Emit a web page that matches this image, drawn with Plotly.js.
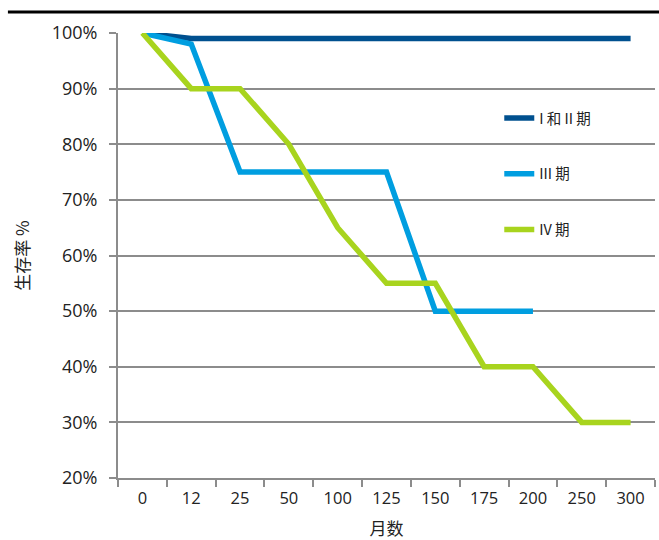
<!DOCTYPE html>
<html>
<head>
<meta charset="utf-8">
<script src="https://cdn.plot.ly/plotly-3.0.1.min.js"></script>
<style>html,body{margin:0;padding:0;background:#fff;}#chart{width:659px;height:540px;}</style>
</head>
<body>
<div id="chart"></div>
<script>
const months = ['0','12','25','50','100','125','150','175','200','250','300'];
const stage12 = [100, 99, 99, 99, 99, 99, 99, 99, 99, 99, 99];
const stage3 = [100, 98, 75, 75, 75, 75, 50, 50, 50];
const stage4 = [100, 90, 90, 80, 65, 55, 55, 40, 40, 30, 30];
const yTicks = [20, 30, 40, 50, 60, 70, 80, 90, 100];
const yTickText = yTicks.map(v => v + '%');

const font = "'Open Sans', 'Noto Sans CJK SC', sans-serif";
const cjk = "'Noto Sans CJK SC', sans-serif";
const traces = [
  {x: months.slice(0, stage12.length), y: stage12, name: 'I 和 II 期', legendgroup: 'a',
   mode: 'lines', line: {color: '#00508f', width: 5.5}, cliponaxis: false},
  {x: months.slice(0, stage3.length), y: stage3, name: 'III 期', legendgroup: 'b',
   mode: 'lines', line: {color: '#009ee0', width: 5.5}, cliponaxis: false},
  {x: months.slice(0, stage4.length), y: stage4, name: 'IV 期', legendgroup: 'c',
   mode: 'lines', line: {color: '#a8d41e', width: 5.5}, cliponaxis: false}
];

const layout = {
  width: 659, height: 540,
  margin: {l: 118, r: 4, t: 33, b: 62},
  paper_bgcolor: '#fff', plot_bgcolor: '#fff',
  font: {family: font, color: '#222', size: 16},
  showlegend: true,
  legend: {
    x: 0.71, y: 0.845, xanchor: 'left', yanchor: 'top',
    bgcolor: 'rgba(0,0,0,0)', traceorder: 'grouped', tracegroupgap: 34,
    font: {family: cjk, size: 14.5, color: '#222'},
    itemwidth: 30
  },
  xaxis: {
    type: 'category', categoryorder: 'array', categoryarray: months,
    range: [-0.5, 10.5], tickson: 'boundaries',
    showline: true, linecolor: '#8c8c8c', linewidth: 2,
    ticks: 'outside', ticklen: 7, tickcolor: '#8c8c8c', tickwidth: 2,
    showgrid: false, zeroline: false,
    tickfont: {family: font, size: 16.5, color: '#222'},
    ticklabelstandoff: 4,
    title: {text: '月数', font: {family: cjk, size: 17, color: '#222'}, standoff: 22}
  },
  yaxis: {
    range: [20, 100], tickvals: yTicks, ticktext: yTickText,
    showline: true, linecolor: '#8c8c8c', linewidth: 2,
    ticks: 'outside', ticklen: 7, tickcolor: '#8c8c8c', tickwidth: 2,
    showgrid: true, gridcolor: '#8c8c8c', gridwidth: 2, zeroline: false,
    tickfont: {family: font, size: 18, color: '#222'},
    ticklabelstandoff: 8,
    title: {text: '生存率 %', font: {family: cjk, size: 17, color: '#222'}, standoff: 18}
  },
  shapes: [
    {type: 'line', xref: 'paper', yref: 'paper', x0: -0.205, x1: 1.01, y0: 1.047, y1: 1.047,
     line: {color: '#000', width: 3}}
  ]
};

Plotly.newPlot('chart', traces, layout, {displayModeBar: false, staticPlot: true});
</script>
</body>
</html>
